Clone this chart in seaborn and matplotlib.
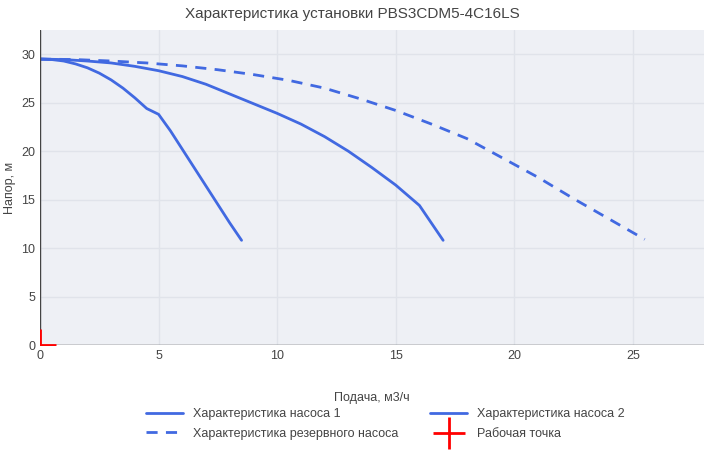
import matplotlib
matplotlib.use("Agg")
import matplotlib.pyplot as plt
import seaborn as sns

pump1_q = [0, 0.5, 1, 1.5, 2, 2.5, 3, 3.5, 4, 4.5, 5, 5.5, 6, 6.5, 7, 7.5, 8, 8.5]
pump1_h = [29.5, 29.45, 29.3, 29.0, 28.6, 28.05, 27.35, 26.5, 25.5, 24.4, 23.9 - 0.1, 22.1, 20.2, 18.3, 16.4, 14.5, 12.6, 10.8]
pump2_q = [0, 1, 2, 3, 4, 5, 6, 7, 8, 9, 10, 11, 12, 13, 14, 15, 16, 17]
pump2_h = [29.5, 29.45, 29.3, 29.1, 28.75, 28.3, 27.7, 26.9, 25.9, 24.9, 23.9, 22.8, 21.5, 20.0, 18.3, 16.5, 14.4, 10.8 + 0.0]
reserve_q = [0, 1.5, 3, 4.5, 6, 7.5, 9, 10.5, 12, 13.5, 15, 16.5, 18, 19.5, 21, 22.5, 24, 25.5]
reserve_h = [29.5, 29.45, 29.3, 29.1, 28.8, 28.4, 27.9, 27.3, 26.5, 25.4, 24.2, 22.8, 21.3, 19.3, 17.3, 15.1, 13.0, 10.9]
work_q = [0]
work_h = [0]

sns.set_theme(style="whitegrid")
plt.rcParams['font.family'] = ['Liberation Sans', 'DejaVu Sans']

fig = plt.figure(figsize=(7.04, 4.5), dpi=100)
ax = fig.add_axes([40 / 704, 1 - 345 / 450, 664 / 704, 315 / 450])
ax.set_facecolor("#eef0f5")
blue = "#4169e1"

sns.lineplot(x=pump1_q, y=pump1_h, ax=ax, color=blue, lw=2, label="Характеристика насоса 1")
sns.lineplot(x=reserve_q, y=reserve_h, ax=ax, color=blue, lw=2, linestyle=(0, (4, 3)),
             label="Характеристика резервного насоса")
sns.lineplot(x=pump2_q, y=pump2_h, ax=ax, color=blue, lw=2, label="Характеристика насоса 2")
ax.scatter(work_q, work_h, marker="+", s=500, color="red", linewidths=2,
           label="Рабочая точка", zorder=5)

ax.set_xlim(0, 28)
ax.set_ylim(0, 32.5)
ax.set_xticks([0, 5, 10, 15, 20, 25])
ax.set_yticks([0, 5, 10, 15, 20, 25, 30])
ax.grid(color="#e0e3ea", lw=1)
for s in ax.spines.values():
    s.set_visible(False)
ax.axhline(0, color="#444444", lw=1)
ax.axvline(0, color="#444444", lw=1)
ax.tick_params(labelsize=9, colors="#444444", length=0)
ax.set_xlabel("Подача, м3/ч", fontsize=9, color="#444444", labelpad=22)
ax.set_ylabel("Напор, м", fontsize=9, color="#444444")
fig.suptitle("Характеристика установки PBS3CDM5-4C16LS", fontsize=11, color="#444444", y=0.985)

h, l = ax.get_legend_handles_labels()
ax.legend(h, l, ncol=2, loc="upper center", bbox_to_anchor=(0.52, -0.165), frameon=False,
          fontsize=9, handlelength=3, columnspacing=2.5, labelspacing=0.6)
for t in ax.get_legend().get_texts():
    t.set_color("#444444")

fig.savefig("out.png", dpi=100)
